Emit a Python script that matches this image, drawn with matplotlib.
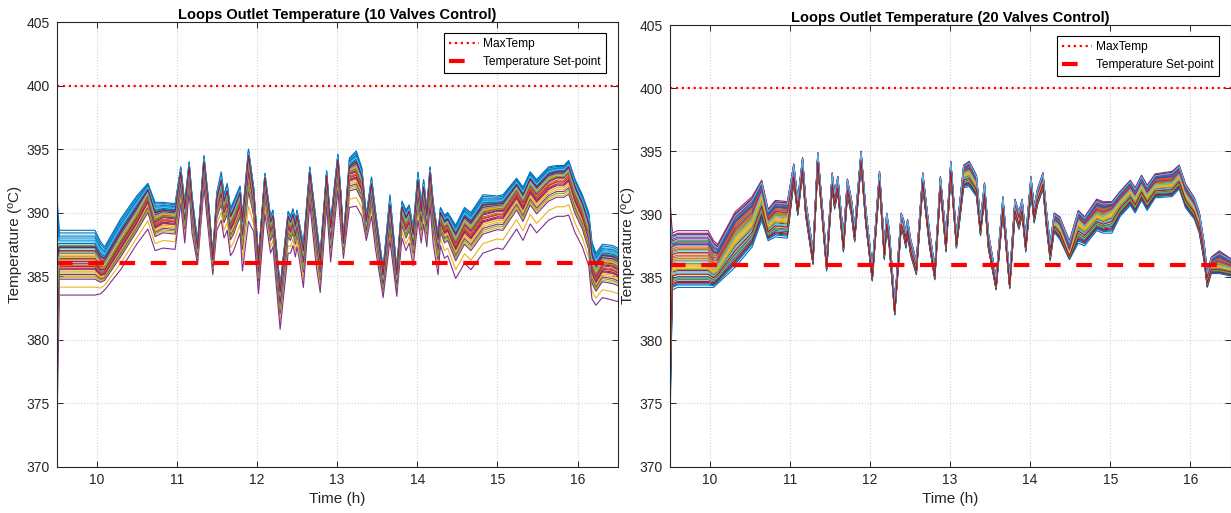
import numpy as np
import matplotlib
matplotlib.use('Agg')
from matplotlib import pyplot as plt

# ---- 10 valves control: reference curve + band above/below it
time_10 = [9.50, 9.535, 9.60, 9.80, 9.98, 10.05, 10.10, 10.30, 10.50, 10.64, 10.73, 10.83, 10.98,
           11.05, 11.10, 11.155, 11.19, 11.26, 11.34, 11.39, 11.45, 11.50, 11.555, 11.59, 11.63,
           11.67, 11.71, 11.79, 11.82, 11.895, 11.96, 12.02, 12.10, 12.17, 12.20, 12.29, 12.39,
           12.42, 12.45, 12.48, 12.50, 12.53, 12.58, 12.66, 12.74, 12.79, 12.87, 12.92, 13.01,
           13.05, 13.08, 13.155, 13.24, 13.31, 13.365, 13.43, 13.48, 13.575, 13.66, 13.745, 13.81,
           13.86, 13.90, 13.95, 14.01, 14.05, 14.08, 14.12, 14.16, 14.20, 14.26, 14.29, 14.34,
           14.38, 14.48, 14.59, 14.67, 14.82, 15.00, 15.07, 15.24, 15.32, 15.41, 15.49, 15.64,
           15.74, 15.83, 15.89, 15.97, 16.06, 16.14, 16.18, 16.23, 16.31, 16.44, 16.50]
base_10 = [381.0, 386.0, 386.0, 386.0, 386.0, 385.4, 385.4, 387.5, 389.5, 391.3, 389.2, 389.6, 389.5,
           392.7, 389.8, 393.2, 390.4, 386.7, 393.5, 390.4, 385.9, 390.6, 391.9, 390.4, 391.1,
           389.1, 389.6, 391.0, 388.8, 394.0, 391.0, 385.7, 392.4, 388.8, 389.3, 383.3, 389.3,
           388.8, 389.4, 388.5, 389.3, 388.3, 386.5, 392.7, 388.3, 385.7, 392.5, 388.3, 393.75,
           390.4, 387.2, 393.0, 393.2, 392.2, 388.8, 391.7, 389.1, 384.6, 389.8, 384.6, 390.0,
           389.0, 389.6, 387.8, 391.9, 389.6, 391.4, 389.3, 392.7, 389.8, 387.5, 389.6, 388.8,
           389.0, 387.6, 389.0, 388.5, 389.8, 390.1, 390.1, 391.7, 390.8, 392.1, 391.4, 392.4,
           392.7, 392.7, 393.1, 391.4, 390.1, 388.3, 385.7, 384.9, 385.8, 385.7, 385.5]
up_10 = [10.8, 2.6, 2.6, 2.6, 2.6, 2.3, 1.9, 2.0, 1.8, 1.0, 1.6, 1.2, 1.2,
         0.9, 1.0, 0.8, 1.0, 1.0, 1.0, 1.0, 0.8, 1.0, 1.3, 1.0, 1.2,
         1.2, 1.3, 1.1, 1.0, 1.0, 1.0, 0.8, 0.7, 0.9, 0.9, 0.9, 0.8,
         0.9, 0.9, 0.9, 0.9, 0.9, 1.0, 0.9, 1.0, 1.0, 0.8, 1.0, 0.85,
         1.0, 0.8, 1.3, 1.65, 1.3, 1.0, 1.1, 1.0, 1.0, 1.6, 1.0, 0.9,
         1.2, 1.0, 1.0, 1.3, 1.0, 1.2, 1.0, 0.9, 1.0, 0.8, 0.8, 1.0,
         1.0, 1.4, 1.4, 1.5, 1.6, 1.2, 1.3, 1.0, 1.2, 1.1, 1.2, 1.2,
         1.0, 1.0, 1.0, 1.2, 1.3, 1.7, 2.0, 1.9, 1.7, 1.7, 1.7]
down_10 = [10.0, 2.5, 2.5, 2.5, 2.5, 1.8, 1.5, 2.0, 2.0, 2.6, 2.2, 2.4, 2.4,
           2.0, 2.2, 1.5, 2.0, 0.8, 1.5, 1.6, 0.8, 2.0, 2.5, 2.4, 2.5,
           2.5, 2.6, 2.6, 3.4, 4.7, 2.5, 2.1, 2.5, 2.0, 2.0, 2.5, 2.5,
           2.0, 2.0, 2.0, 2.0, 2.0, 2.4, 2.0, 2.5, 2.0, 2.0, 2.2, 2.0,
           2.0, 0.8, 2.6, 2.7, 2.5, 1.0, 2.0, 2.0, 1.3, 2.0, 1.2, 2.0,
           2.0, 2.0, 2.0, 2.5, 2.0, 2.3, 2.0, 2.2, 2.3, 2.4, 2.2, 2.4,
           2.4, 2.8, 3.0, 3.0, 3.0, 2.9, 3.0, 3.0, 3.0, 3.0, 3.0, 3.0,
           3.0, 3.0, 3.3, 3.0, 2.8, 2.5, 2.5, 2.2, 2.5, 2.6, 2.5]

# ---- 20 valves control
time_20 = [9.50, 9.535, 9.60, 9.98, 10.05, 10.10, 10.32, 10.53, 10.65, 10.73, 10.82, 10.97,
           11.05, 11.10, 11.16, 11.20, 11.29, 11.35, 11.46, 11.53, 11.56, 11.60, 11.67, 11.72,
           11.77, 11.81, 11.89, 11.95, 12.03, 12.12, 12.18, 12.21, 12.24, 12.31, 12.39, 12.42,
           12.45, 12.47, 12.51, 12.58, 12.66, 12.74, 12.81, 12.88, 12.95, 13.01, 13.08, 13.17,
           13.24, 13.33, 13.38, 13.43, 13.48, 13.575, 13.66, 13.745, 13.81, 13.86, 13.90, 13.945,
           14.01, 14.05, 14.09, 14.16, 14.20, 14.25, 14.30, 14.37, 14.49, 14.60, 14.68, 14.83,
           14.91, 15.02, 15.12, 15.25, 15.31, 15.39, 15.46, 15.56, 15.77, 15.86, 15.94, 16.05,
           16.11, 16.17, 16.21, 16.26, 16.36, 16.50]
base_20 = [381.0, 386.0, 386.1, 386.1, 385.6, 385.8, 388.2, 389.5, 391.6, 389.2, 389.8, 389.7,
           393.3, 390.6, 393.9, 390.5, 386.6, 394.4, 386.1, 392.7, 391.1, 392.4, 387.7, 392.2,
           390.6, 388.5, 394.5, 389.8, 385.3, 392.9, 387.1, 389.5, 388.3, 382.5, 389.5, 389.0,
           388.0, 389.0, 387.4, 385.8, 392.8, 388.3, 385.3, 392.5, 387.7, 393.7, 387.9, 393.2,
           393.4, 392.4, 389.0, 391.9, 387.9, 384.5, 390.8, 384.6, 390.6, 389.5, 390.6, 387.7,
           392.4, 390.0, 391.4, 392.7, 389.9, 387.1, 389.4, 389.0, 386.9, 389.5, 389.0, 390.0,
           389.8, 390.2, 391.0, 391.9, 391.3, 392.3, 391.5, 392.3, 392.4, 393.1, 391.6, 390.6,
           389.5, 387.1, 384.8, 385.9, 385.9, 385.7]
up_20 = [10.6, 2.5, 2.6, 2.6, 2.3, 1.8, 2.0, 1.9, 1.1, 1.2, 1.3, 1.3,
         0.7, 0.6, 0.6, 0.6, 0.6, 0.5, 0.5, 0.6, 0.6, 0.6, 0.6, 0.6,
         0.6, 0.6, 0.5, 0.6, 0.5, 0.5, 0.6, 0.6, 0.6, 0.5, 0.6, 0.6,
         0.6, 0.6, 0.6, 0.5, 0.5, 0.6, 0.5, 0.5, 0.6, 0.5, 0.5, 0.7,
         0.8, 0.7, 0.6, 0.6, 0.6, 0.5, 0.6, 0.5, 0.6, 0.7, 0.6, 0.6,
         0.6, 0.6, 0.6, 0.6, 0.6, 0.6, 0.7, 0.8, 1.0, 0.8, 0.8, 1.2,
         1.2, 0.8, 0.8, 0.8, 0.8, 0.8, 0.8, 0.9, 1.0, 0.8, 0.8, 0.7,
         0.7, 0.7, 0.6, 0.7, 1.2, 0.8]
down_20 = [10.0, 2.0, 1.9, 1.9, 1.4, 1.3, 2.4, 2.1, 2.1, 1.3, 1.6, 1.6,
           0.8, 0.7, 0.7, 0.7, 0.6, 0.6, 0.6, 0.7, 0.7, 0.7, 0.7, 0.7,
           0.7, 0.7, 0.6, 0.7, 0.6, 0.6, 0.7, 0.7, 0.7, 0.5, 0.7, 0.7,
           0.7, 0.7, 0.7, 0.6, 0.6, 0.7, 0.5, 0.6, 0.7, 0.6, 0.6, 1.1,
           1.2, 1.0, 0.7, 0.7, 0.7, 0.5, 0.7, 0.5, 0.7, 0.7, 0.7, 0.7,
           0.7, 0.7, 0.7, 0.7, 0.8, 0.8, 0.8, 1.0, 0.5, 1.8, 1.5, 1.3,
           1.3, 1.7, 1.2, 1.2, 1.2, 1.2, 1.2, 1.0, 1.0, 1.1, 1.1, 1.0,
           1.0, 0.8, 0.6, 0.6, 0.6, 0.6]

# where each loop sits inside the band (-1 = bottom edge, 1 = top edge)
loop_pos_10 = [1.00, 0.10, -0.75, -1.00, 0.35, 0.85, 0.05, 0.92, -0.20, -0.45, 0.50, 0.60, 0.75, -0.10,
               0.80, 0.20, -0.30, -0.50, 0.40, 0.65, 0.15, 0.70, -0.05, 0.25, -0.35, 0.55, 0.45, -0.15,
               0.60, 0.30, -0.25, 0.00, -0.40, 0.68, 0.38, 0.52, -0.08, 0.22, -0.18, 0.12, 0.32, 0.48]
loop_pos_20 = [-1.00, -0.60, 0.30, 1.00, 0.70, 0.55, -0.75, -0.85, 0.10, -0.20, 0.80, 0.45, -0.40, 0.62,
               -0.55, 0.20, -0.10, 0.88, 0.00, 0.38, -0.30, -0.68, 0.50, -0.48, 0.75, 0.15, -0.35, 0.92,
               -0.90, 0.25, -0.05, 0.58, -0.25, 0.05, -0.80, 0.66, 0.42, -0.15, 0.33, -0.62, 0.84, -0.45]

max_temp = 400
set_point = 386

matlab_colors = ['#0072BD', '#D95319', '#EDB120', '#7E2F8E', '#77AC30', '#4DBEEE', '#A2142F']
ink = '#262626'

plt.rcParams['font.family'] = ['Liberation Sans', 'DejaVu Sans']


def draw_panel(ax, t, base, up, down, positions, title):
    t = np.array(t)
    base = np.array(base)
    up = np.array(up)
    down = np.array(down)
    #one line per loop
    for i, p in enumerate(positions):
        if p >= 0:
            y = base + p * up
        else:
            y = base + p * down
        ax.plot(t, y, color=matlab_colors[i % 7], linewidth=0.8)
    ax.plot([9.5, 16.5], [max_temp, max_temp], color='red', linestyle=':', linewidth=1.6, label='MaxTemp')
    ax.plot([9.5, 16.5], [set_point, set_point], color='red', linewidth=3, dashes=(3.75, 3.75),
            label='Temperature Set-point')

    ax.set_xlim(9.5, 16.5)
    ax.set_ylim(370, 405)
    ax.set_xticks(range(10, 17))
    ax.set_yticks(range(370, 406, 5))
    ax.grid(True, linestyle=':', color='#d2d2d2', linewidth=0.8)
    ax.tick_params(direction='in', top=True, right=True, length=4, width=0.7, labelsize=10,
                   colors=ink, pad=5)
    for s in ax.spines.values():
        s.set_color(ink)
        s.set_linewidth(0.8)
    ax.set_title(title, fontsize=10.5, fontweight='bold', color='black', pad=2.5)
    ax.set_xlabel('Time (h)', fontsize=11, color=ink, labelpad=3)
    ax.set_ylabel('Temperature (ºC)', fontsize=11, color=ink, labelpad=3)
    leg = ax.legend(loc='upper right', bbox_to_anchor=(0.979, 0.975), borderaxespad=0, fontsize=8.6,
                    fancybox=False, framealpha=1, edgecolor='black', handlelength=2.5,
                    handletextpad=0.4, borderpad=0.4, labelspacing=0.55)
    leg.get_frame().set_linewidth(0.8)


fig = plt.figure(figsize=(12.31, 5.13), dpi=100)
ax1 = fig.add_axes([0.0459, 0.0906, 0.4558, 0.8665])
ax2 = fig.add_axes([0.5439, 0.0906, 0.4557, 0.8606])

draw_panel(ax1, time_10, base_10, up_10, down_10, loop_pos_10, 'Loops Outlet Temperature (10 Valves Control)')
draw_panel(ax2, time_20, base_20, up_20, down_20, loop_pos_20, 'Loops Outlet Temperature (20 Valves Control)')

fig.savefig('out.png', dpi=100)
